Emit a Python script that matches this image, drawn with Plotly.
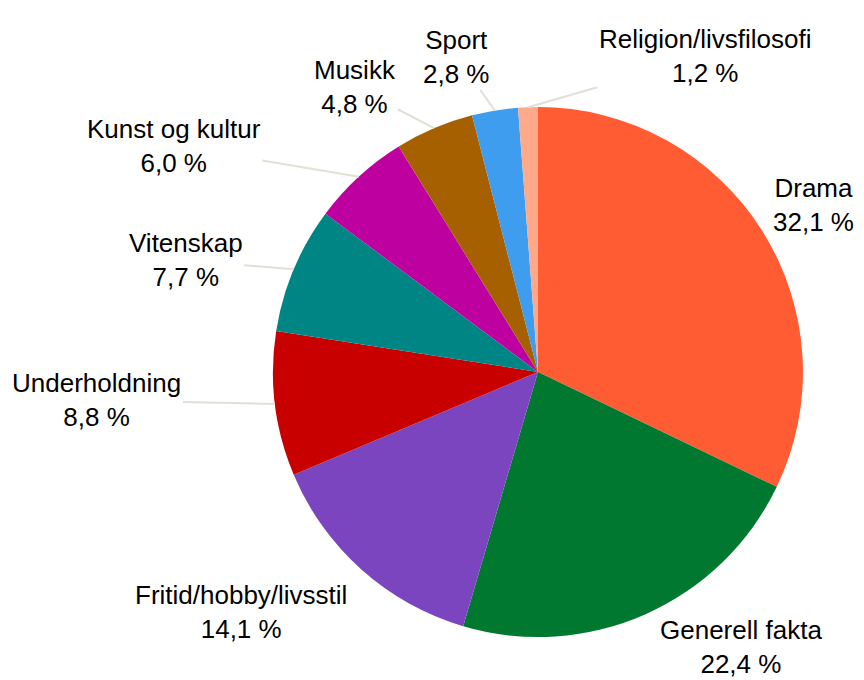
import math
import plotly.graph_objects as go

labels = ["Drama", "Generell fakta", "Fritid/hobby/livsstil", "Underholdning",
          "Vitenskap", "Kunst og kultur", "Musikk", "Sport", "Religion/livsfilosofi"]
values = [32.1, 22.4, 14.1, 8.8, 7.7, 6.0, 4.8, 2.8, 1.2]
colors = ["#FF5C33", "#00782F", "#7B45C0", "#C80000", "#008585",
          "#BE00A0", "#A66000", "#3F9DF0", "#FFA98B"]

# label placement: pixel offset of label centre from the slice edge, and leader line on/off
label_offsets = [(51, -26), (95, 33), (-120, 42), (-178, -4), (-108, -9),
                 (-185, -31), (-79, -41), (-38, -54), (177, -51)]
leader = [False, False, False, True, True, True, True, True, True]

W, H = 864, 680
dom_x = [0.3067, 0.9201]
dom_y = [0.075, 0.8544]

fig = go.Figure()
fig.add_trace(go.Pie(
    labels=labels,
    values=values,
    sort=False,
    direction="clockwise",
    rotation=0,
    marker=dict(colors=colors, line=dict(width=0)),
    textposition="none",
    showlegend=False,
    hoverinfo="label+value",
    domain=dict(x=dom_x, y=dom_y),
))

# pie geometry in pixels (same as plotly computes it for this domain)
cx = W * (dom_x[0] + dom_x[1]) / 2
cy = H * (1 - (dom_y[0] + dom_y[1]) / 2)
r = min(W * (dom_x[1] - dom_x[0]), H * (dom_y[1] - dom_y[0])) / 2

total = sum(values)
cum = 0
for lab, val, (ox, oy), line in zip(labels, values, label_offsets, leader):
    theta = 2 * math.pi * (cum + val / 2) / total
    cum += val
    px = cx + r * math.sin(theta)
    py = cy - r * math.cos(theta)
    fig.add_annotation(
        x=px / W, y=1 - py / H, xref="paper", yref="paper",
        text=f"{lab}<br>{val:.1f} %".replace(".", ","),
        showarrow=True, arrowhead=0, arrowwidth=2, standoff=0,
        arrowcolor="#E3DFD5" if line else "rgba(0,0,0,0)",
        ax=ox, ay=oy, align="center",
        font=dict(family="Liberation Sans, Arial, sans-serif", size=26, color="black"),
    )

fig.update_layout(
    width=W, height=H,
    margin=dict(l=0, r=0, t=0, b=0),
    paper_bgcolor="white",
    plot_bgcolor="white",
)

fig.write_html("out.html")
